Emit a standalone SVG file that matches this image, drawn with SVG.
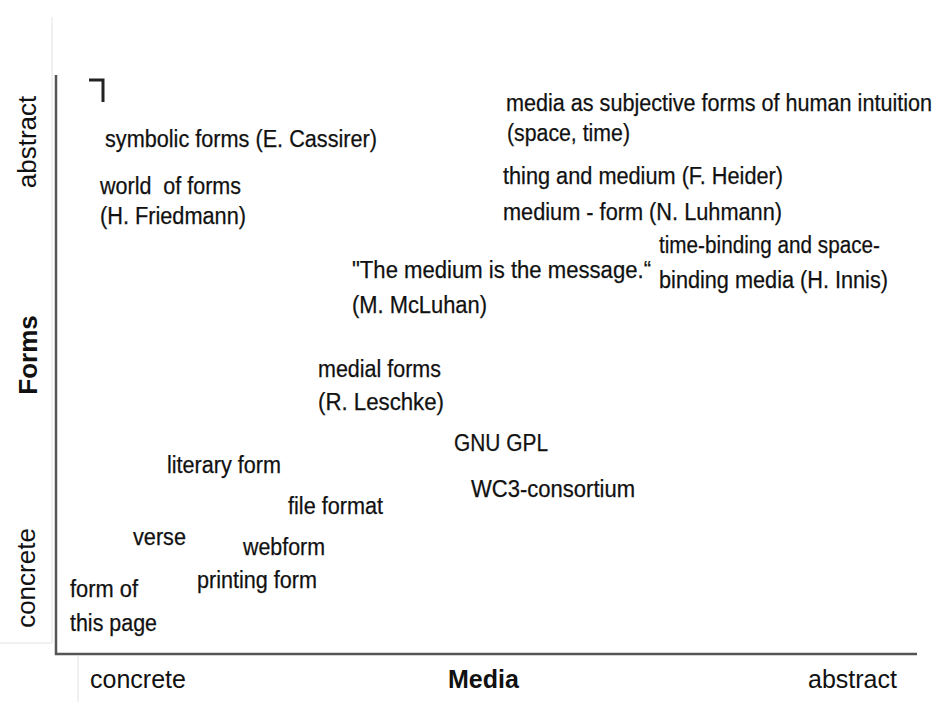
<svg xmlns="http://www.w3.org/2000/svg" width="940" height="702" viewBox="0 0 940 702">
<style>
.t{font-family:"Liberation Sans",Arial,sans-serif;font-size:23.5px;fill:#111;stroke:#111;stroke-width:0.25}
.ax{font-family:"Liberation Sans",Arial,sans-serif;font-size:26px;fill:#111;text-anchor:middle}
.bx{font-family:"Liberation Sans",Arial,sans-serif;font-size:25px;fill:#111}
.b{font-weight:bold}
.axis{stroke:#555;stroke-width:2.5;fill:none}
.faint{stroke:#e2e2e2;stroke-width:1;fill:none}
</style>
<rect width="940" height="702" fill="#fff"/>
<g id="frame">
<path class="faint" d="M52 17V643M0 643H52M78 656V702"/>
</g>
<g id="axes">
<path class="axis" d="M56 75V654H917"/>
<path d="M89 80H103V102" stroke="#222" stroke-width="3" fill="none"/>
</g>
<g id="axis-labels">
<text class="ax" transform="translate(36 142) rotate(-90)">abstract</text>
<text class="ax b" transform="translate(37 355) rotate(-90)">Forms</text>
<text class="ax" transform="translate(35 578) rotate(-90)">concrete</text>
<text class="bx" x="90" y="688">concrete</text>
<text class="bx b" x="448" y="688">Media</text>
<text class="bx" x="808" y="688">abstract</text>
</g>
<g id="connectors"/>
<g id="n-cassirer"><text class="t" x="105" y="147" textLength="272" lengthAdjust="spacingAndGlyphs">symbolic forms (E. Cassirer)</text></g>
<g id="n-friedmann"><text class="t" x="100" y="194" textLength="141" lengthAdjust="spacingAndGlyphs" xml:space="preserve">world  of forms</text><text class="t" x="100" y="224" textLength="146" lengthAdjust="spacingAndGlyphs">(H. Friedmann)</text></g>
<g id="n-intuition"><text class="t" x="506" y="111" textLength="426" lengthAdjust="spacingAndGlyphs">media as subjective forms of human intuition</text><text class="t" x="507" y="141" textLength="123" lengthAdjust="spacingAndGlyphs">(space, time)</text></g>
<g id="n-heider"><text class="t" x="503" y="184" textLength="280" lengthAdjust="spacingAndGlyphs">thing and medium (F. Heider)</text></g>
<g id="n-luhmann"><text class="t" x="503" y="220" textLength="279" lengthAdjust="spacingAndGlyphs">medium - form (N. Luhmann)</text></g>
<g id="n-innis"><text class="t" x="659" y="253" textLength="221" lengthAdjust="spacingAndGlyphs">time-binding and space-</text><text class="t" x="659" y="288" textLength="229" lengthAdjust="spacingAndGlyphs">binding media (H. Innis)</text></g>
<g id="n-mcluhan"><text class="t" x="352" y="278" textLength="299" lengthAdjust="spacingAndGlyphs">"The medium is the message.“</text><text class="t" x="352" y="313" textLength="135" lengthAdjust="spacingAndGlyphs">(M. McLuhan)</text></g>
<g id="n-leschke"><text class="t" x="318" y="377" textLength="123" lengthAdjust="spacingAndGlyphs">medial forms</text><text class="t" x="318" y="410" textLength="126" lengthAdjust="spacingAndGlyphs">(R. Leschke)</text></g>
<g id="n-gnu"><text class="t" x="454" y="451" textLength="94" lengthAdjust="spacingAndGlyphs">GNU GPL</text></g>
<g id="n-wc3"><text class="t" x="471" y="497" textLength="164" lengthAdjust="spacingAndGlyphs">WC3-consortium</text></g>
<g id="n-literary"><text class="t" x="167" y="473" textLength="114" lengthAdjust="spacingAndGlyphs">literary form</text></g>
<g id="n-fileformat"><text class="t" x="288" y="514" textLength="95" lengthAdjust="spacingAndGlyphs">file format</text></g>
<g id="n-verse"><text class="t" x="133" y="545" textLength="53" lengthAdjust="spacingAndGlyphs">verse</text></g>
<g id="n-webform"><text class="t" x="243" y="555" textLength="82" lengthAdjust="spacingAndGlyphs">webform</text></g>
<g id="n-printing"><text class="t" x="197" y="588" textLength="120" lengthAdjust="spacingAndGlyphs">printing form</text></g>
<g id="n-page"><text class="t" x="70" y="597" textLength="68" lengthAdjust="spacingAndGlyphs">form of</text><text class="t" x="70" y="631" textLength="87" lengthAdjust="spacingAndGlyphs">this page</text></g>
</svg>
